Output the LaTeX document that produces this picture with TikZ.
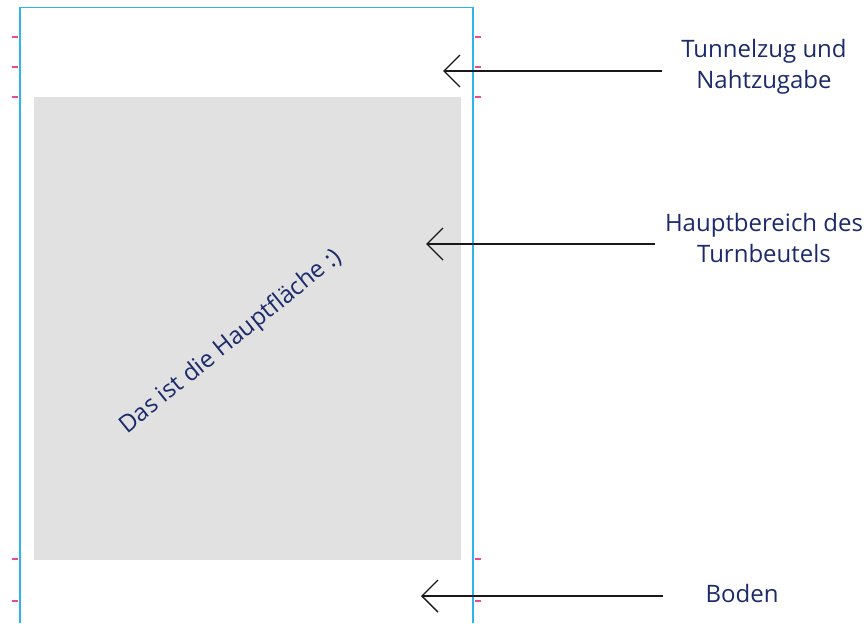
\documentclass[tikz,border=0pt]{standalone}
\usepackage{fontspec}
\setmainfont{Open Sans}
\usetikzlibrary{arrows.meta}
\definecolor{navy}{HTML}{1B2A6B}
\definecolor{cutblue}{HTML}{2CB5E8}
\definecolor{markpink}{HTML}{E8479A}
\definecolor{panelgray}{HTML}{E1E1E1}
\tikzset{
  lbl/.style={text=navy, font=\fontsize{24}{30.5}\selectfont, align=center, inner sep=0pt},
  pointer/.style={draw=black!90, line width=1.4pt, -{Straight Barb[length=16pt,width=32pt,line width=1.4pt]}},
  pinkmark/.style={draw=markpink, line width=1.6pt},
  cutedge/.style={draw=cutblue, line width=1.4pt}
}
\begin{document}
\begin{tikzpicture}[x=1pt,y=-1pt]
\useasboundingbox (0,0) rectangle (866,623);
\fill[panelgray] (34,97) rectangle (461,560);
\draw[cutedge] (20,623) -- (20,7.5) -- (473,7.5) -- (473,623);
\foreach \yy in {37,67,97,559,601} {
  \draw[pinkmark] (12,\yy) -- (18,\yy);
  \draw[pinkmark] (475,\yy) -- (481,\yy);
}
\node[lbl, rotate=39] (main) at (231,342) {Das ist die Hauptfläche :)};
\node[lbl] (tunnel) at (764,67) {Tunnelzug und\\Nahtzugabe};
\node[lbl] (haupt) at (764,238) {Hauptbereich des\\Turnbeutels};
\node[lbl] (boden) at (742,593) {Boden};
\coordinate (t1) at (662,71);
\coordinate (t2) at (443,71);
\coordinate (h1) at (655,244);
\coordinate (h2) at (426,244);
\coordinate (b1) at (663,596);
\coordinate (b2) at (421,596);
\draw[pointer] (t1) -- (t2);
\draw[pointer] (h1) -- (h2);
\draw[pointer] (b1) -- (b2);
\end{tikzpicture}
\end{document}
